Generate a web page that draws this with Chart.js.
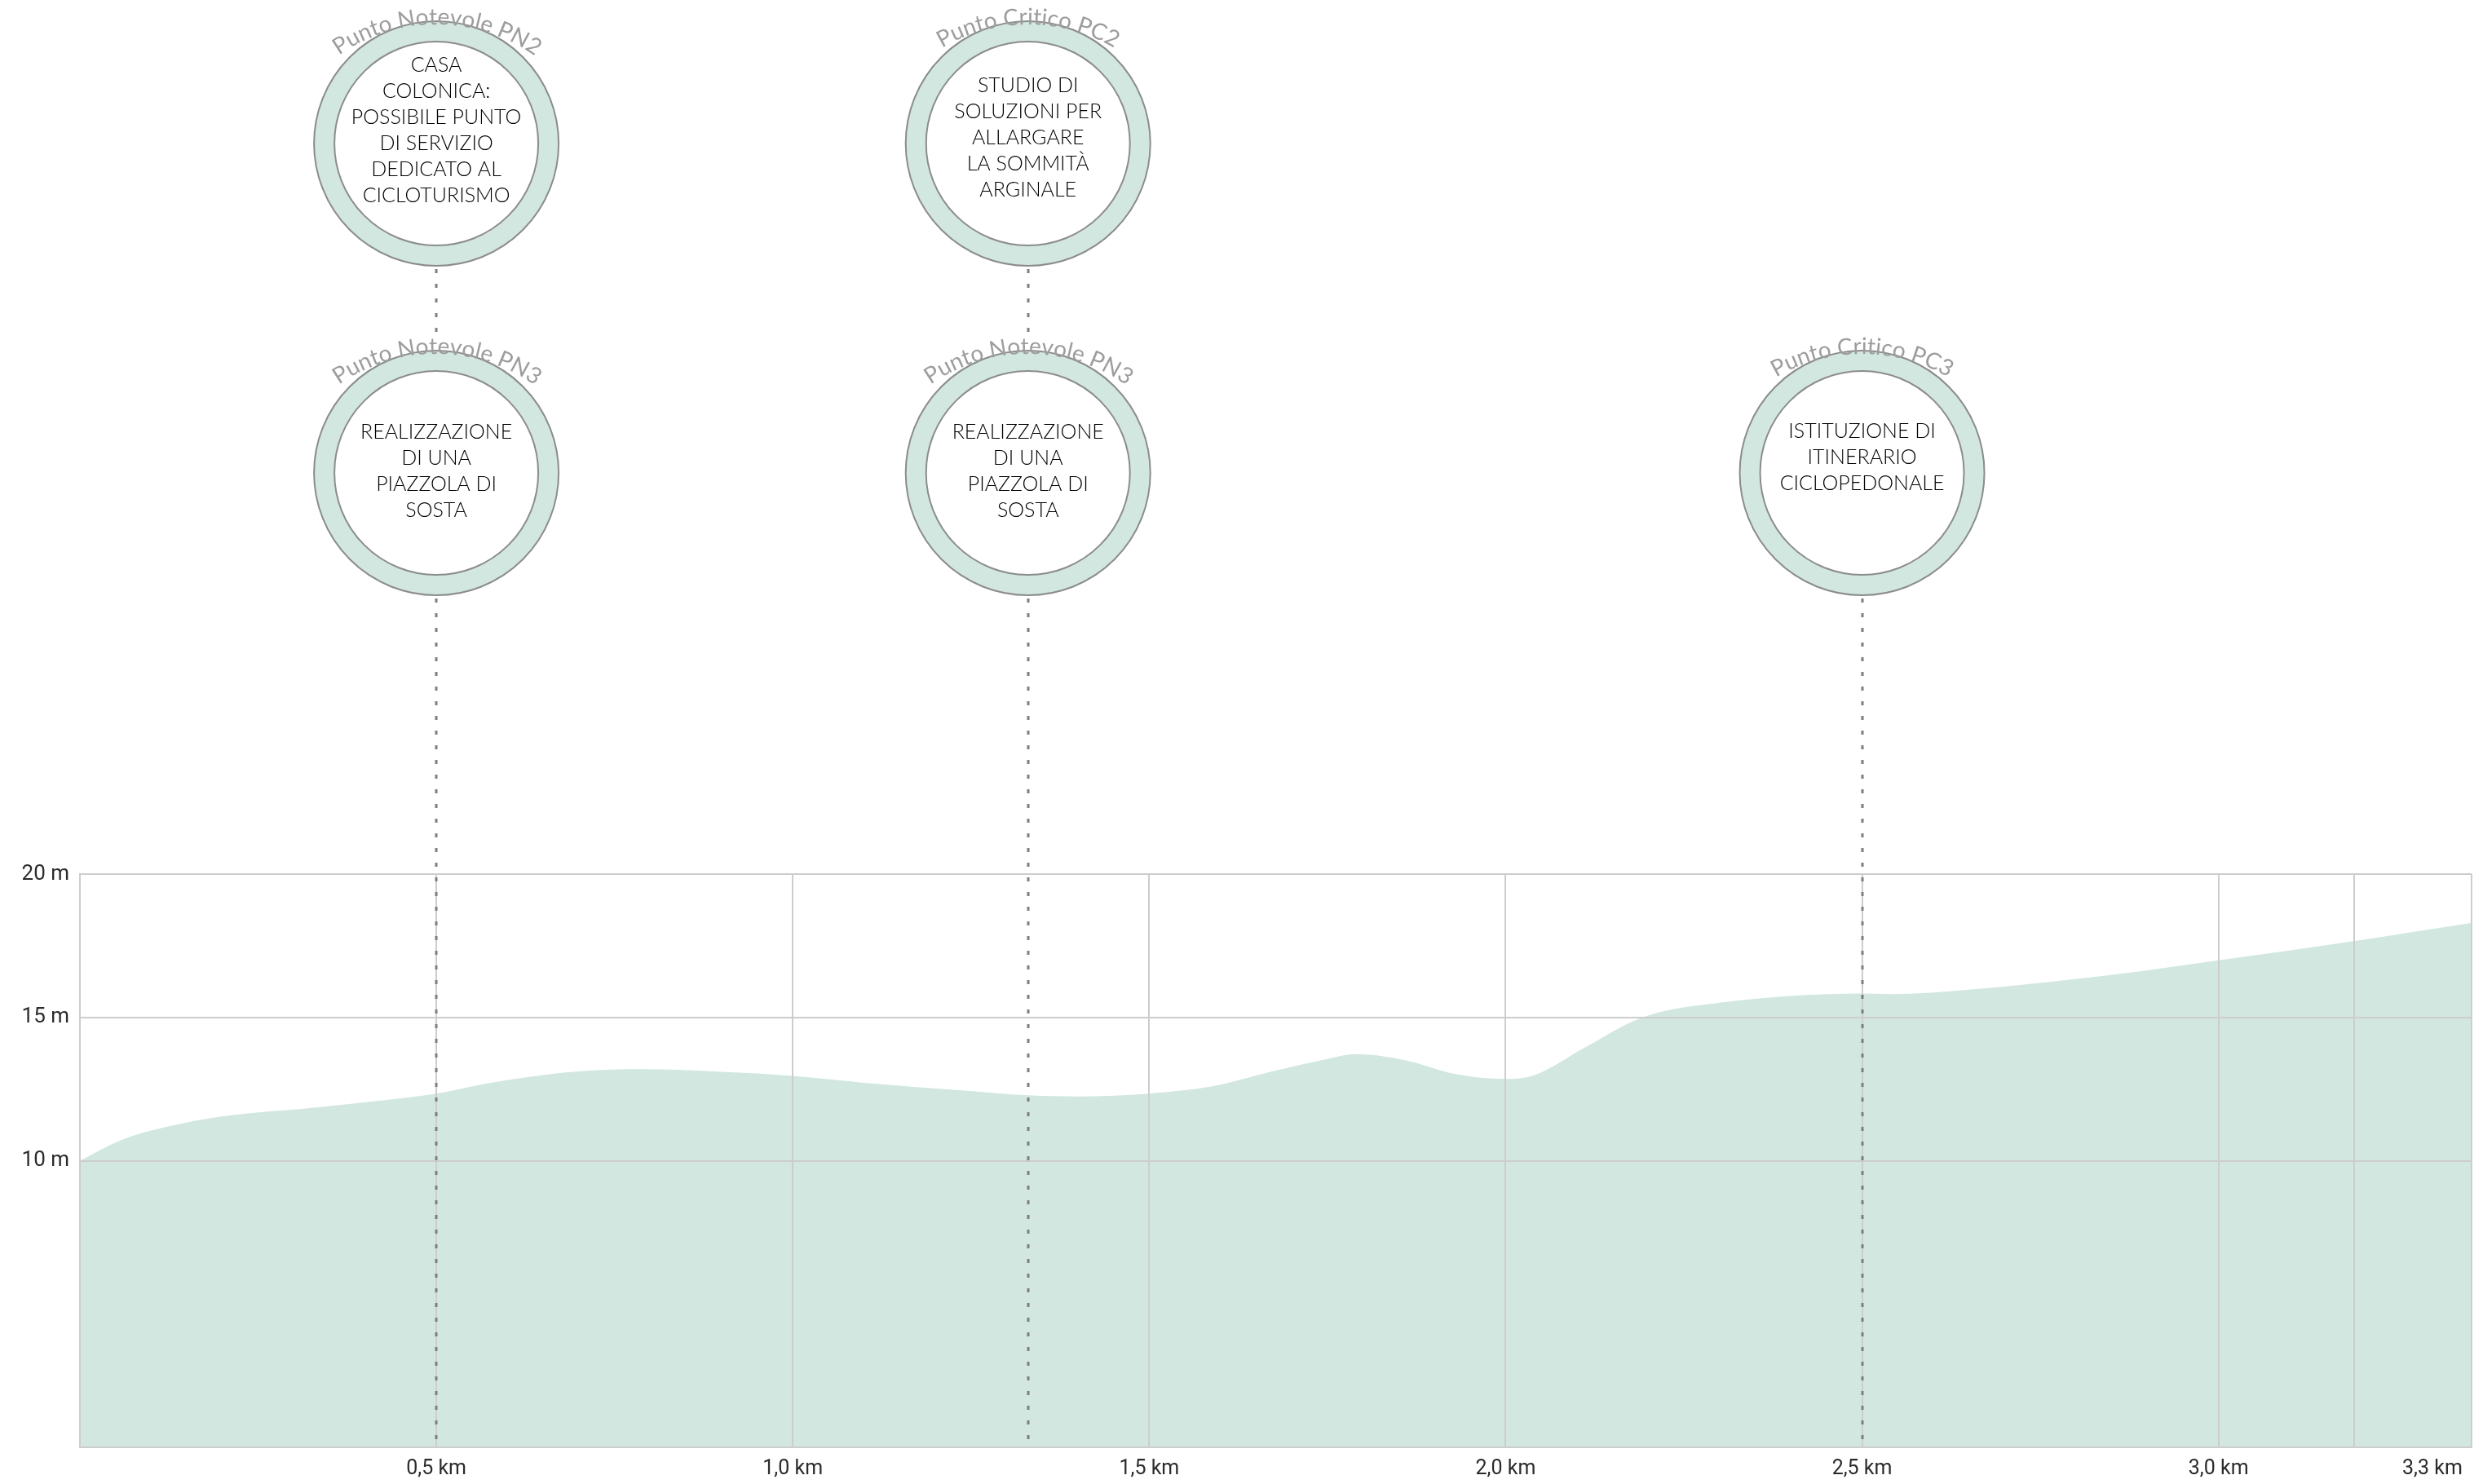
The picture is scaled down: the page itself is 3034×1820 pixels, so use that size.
<!DOCTYPE html>
<html>
<head>
<meta charset="utf-8">
<script src="https://cdn.jsdelivr.net/npm/chart.js@4.4.1/dist/chart.umd.min.js"></script>
<style>
    html, body { margin: 0; padding: 0; background: #ffffff; }
    #wrap { width: 3034px; height: 1820px; position: relative; }
</style>
</head>
<body>
<div id="wrap"><canvas id="profileChart"></canvas></div>
<script>
// Elevation profile (km, m)
const distanceKm = [0, 0.06, 0.12, 0.2, 0.32, 0.43, 0.5, 0.57, 0.65, 0.72, 0.79, 0.9, 1.0, 1.1,
    1.24, 1.33, 1.4, 1.5, 1.59, 1.67, 1.75, 1.79, 1.86, 1.93, 2.0, 2.04, 2.11, 2.18, 2.23,
    2.28, 2.39, 2.5, 2.54, 2.65, 2.76, 2.87, 3.0, 3.19, 3.355];
const elevationM = [10.0, 10.74, 11.17, 11.55, 11.83, 12.12, 12.34, 12.69, 12.99, 13.15, 13.19, 13.1, 12.96, 12.72,
    12.45, 12.28, 12.24, 12.34, 12.6, 13.1, 13.55, 13.72, 13.5, 13.02, 12.85, 12.98, 13.93, 14.88, 15.26,
    15.45, 15.73, 15.83, 15.81, 15.97, 16.23, 16.54, 16.99, 17.66, 18.3];

// Axis ticks
const xTicks = [0.5, 1.0, 1.5, 2.0, 2.5, 3.0, 3.19, 3.3, 3.355];
const xTickLabels = ['0,5 km', '1,0 km', '1,5 km', '2,0 km', '2,5 km', '3,0 km', '', '3,3 km', ''];
const yTicks = [0, 10, 15, 20];
const yTickLabels = ['', '10 m', '15 m', '20 m'];

// Notes along the route
const noteKm = [0.5, 1.33, 0.5, 1.33, 2.5];
const noteRow = [0, 0, 1, 1, 1];
const noteTitles = ['Punto Notevole PN2', 'Punto Critico PC2', 'Punto Notevole PN3', 'Punto Notevole PN3', 'Punto Critico PC3'];
const noteLines = [
    ['CASA', 'COLONICA:', 'POSSIBILE PUNTO', 'DI SERVIZIO', 'DEDICATO AL', 'CICLOTURISMO'],
    ['STUDIO DI', 'SOLUZIONI PER', 'ALLARGARE', 'LA SOMMITÀ', 'ARGINALE'],
    ['REALIZZAZIONE', 'DI UNA', 'PIAZZOLA DI', 'SOSTA'],
    ['REALIZZAZIONE', 'DI UNA', 'PIAZZOLA DI', 'SOSTA'],
    ['ISTITUZIONE DI', 'ITINERARIO', 'CICLOPEDONALE'],
];

// Layout of the note circles (pixels)
const rowCenterY = [176, 580];
const textShift = [-16, -7, -2, -2, -19];
const OUTER_R = 150;
const INNER_R = 125;
const MINT = '#d1e7df';
const GRID = '#cdcdcd';

function drawArcText(ctx, text, cx, cy, radius) {
    const total = ctx.measureText(text).width;
    let angle = -Math.PI / 2 - (total / radius) / 2;
    for (const ch of text) {
        const cw = ctx.measureText(ch).width;
        angle += (cw / 2) / radius;
        ctx.save();
        ctx.translate(cx + radius * Math.cos(angle), cy + radius * Math.sin(angle));
        ctx.rotate(angle + Math.PI / 2);
        ctx.fillText(ch, 0, 0);
        ctx.restore();
        angle += (cw / 2) / radius;
    }
}

const notesPlugin = {
    id: 'notes',
    afterDraw(chart) {
        const ctx = chart.ctx;
        const xScale = chart.scales.x;
        const bottom = chart.chartArea.bottom;

        // Dotted leader lines
        ctx.save();
        ctx.strokeStyle = '#7f7f7f';
        ctx.lineWidth = 3;
        ctx.setLineDash([5, 13]);
        noteKm.forEach((km, i) => {
            const x = Math.round(xScale.getPixelForValue(km));
            const cy = rowCenterY[noteRow[i]];
            let endY = bottom;
            if (noteRow[i] === 0) {
                const hasLower = noteKm.some((k, j) => k === km && noteRow[j] === 1);
                if (!hasLower) return;
                endY = rowCenterY[1] - OUTER_R - 12;
            }
            ctx.beginPath();
            ctx.moveTo(x, cy + OUTER_R + 4);
            ctx.lineTo(x, endY);
            ctx.stroke();
        });
        ctx.restore();

        // Circles with text
        noteKm.forEach((km, i) => {
            const cx = xScale.getPixelForValue(km);
            const cy = rowCenterY[noteRow[i]];

            ctx.save();
            ctx.beginPath();
            ctx.arc(cx, cy, OUTER_R, 0, Math.PI * 2);
            ctx.fillStyle = MINT;
            ctx.fill();
            ctx.lineWidth = 2;
            ctx.strokeStyle = '#8c8c8c';
            ctx.stroke();

            ctx.beginPath();
            ctx.arc(cx, cy, INNER_R, 0, Math.PI * 2);
            ctx.fillStyle = '#ffffff';
            ctx.fill();
            ctx.stroke();

            // Title on arc
            ctx.font = '28px Lato, "Open Sans", sans-serif';
            ctx.fillStyle = '#9d9d9d';
            ctx.textAlign = 'center';
            ctx.textBaseline = 'alphabetic';
            drawArcText(ctx, noteTitles[i], cx, cy + 62, 208);

            // Body text
            ctx.font = '300 25px Lato, "Open Sans", sans-serif';
            ctx.fillStyle = '#000000';
            ctx.textBaseline = 'middle';
            const lines = noteLines[i];
            const lh = 32;
            const y0 = cy + textShift[i] - (lines.length - 1) * lh / 2;
            lines.forEach((line, k) => ctx.fillText(line, cx, y0 + k * lh));
            ctx.restore();
        });
    }
};

const points = distanceKm.map((d, i) => ({ x: d, y: elevationM[i] }));

new Chart(document.getElementById('profileChart'), {
    type: 'line',
    data: {
        datasets: [{
            label: 'Quota',
            data: points,
            fill: 'origin',
            backgroundColor: MINT,
            borderWidth: 0,
            borderColor: 'rgba(0,0,0,0)',
            pointRadius: 0,
            cubicInterpolationMode: 'monotone',
        }]
    },
    options: {
        responsive: true,
        maintainAspectRatio: false,
        animation: false,
        layout: {
            padding: { top: 1072, right: 3, bottom: 3, left: 0 }
        },
        plugins: {
            legend: { display: false },
            tooltip: { enabled: false },
        },
        scales: {
            x: {
                type: 'linear',
                min: 0,
                max: 3.355,
                afterBuildTicks: scale => {
                    scale.ticks = xTicks.map(v => ({ value: v }));
                },
                afterFit: scale => {
                    scale.height = 42;
                    scale.paddingLeft = 0;
                    scale.paddingRight = 0;
                },
                ticks: {
                    autoSkip: false,
                    maxRotation: 0,
                    padding: 12,
                    color: '#2b2b2b',
                    font: { family: 'Roboto, "Open Sans", sans-serif', size: 25 },
                    callback: (value, index) => xTickLabels[index],
                },
                grid: {
                    z: 1,
                    drawTicks: false,
                    lineWidth: 2,
                    color: ctx => (ctx.tick && ctx.tick.value === 3.3) ? 'rgba(0,0,0,0)' : GRID,
                },
                border: { display: true, color: GRID, width: 2, z: 1 },
            },
            y: {
                min: 0,
                max: 20,
                afterBuildTicks: scale => {
                    scale.ticks = yTicks.map(v => ({ value: v }));
                },
                afterFit: scale => {
                    scale.width = 98;
                    scale.paddingTop = 0;
                    scale.paddingBottom = 0;
                },
                ticks: {
                    padding: 13,
                    color: '#2b2b2b',
                    font: { family: 'Roboto, "Open Sans", sans-serif', size: 26 },
                    callback: (value, index) => yTickLabels[index],
                },
                grid: {
                    z: 1,
                    drawTicks: false,
                    lineWidth: 2,
                    color: GRID,
                },
                border: { display: true, color: GRID, width: 2, z: 1 },
            }
        }
    },
    plugins: [notesPlugin]
});
</script>
</body>
</html>
